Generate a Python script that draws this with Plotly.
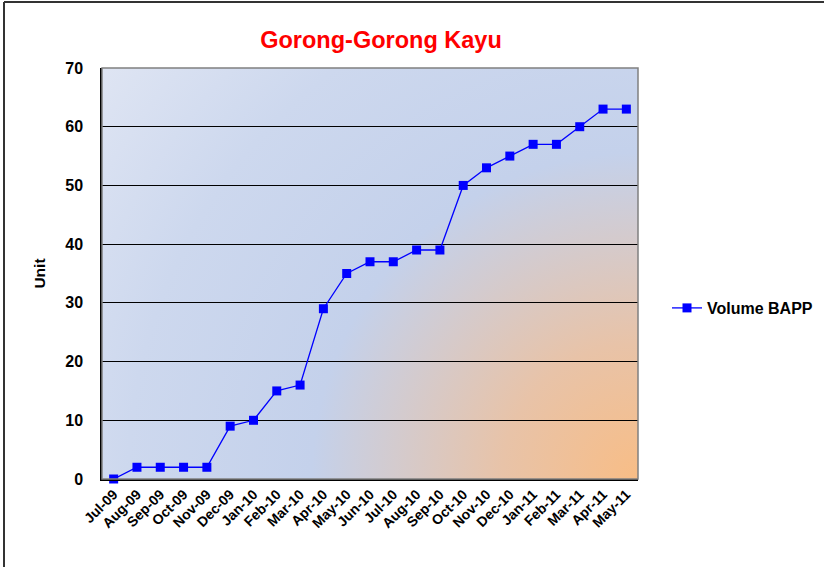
import base64
import plotly.graph_objects as go

# data
bulan = ["Jul-09", "Aug-09", "Sep-09", "Oct-09", "Nov-09", "Dec-09", "Jan-10", "Feb-10",
         "Mar-10", "Apr-10", "May-10", "Jun-10", "Jul-10", "Aug-10", "Sep-10", "Oct-10",
         "Nov-10", "Dec-10", "Jan-11", "Feb-11", "Mar-11", "Apr-11", "May-11"]
volume_bapp = [0, 2, 2, 2, 2, 9, 10, 15, 16, 29, 35, 37, 37, 39, 39, 50, 53, 55, 57, 57, 60, 63, 63]
y_ticks = [0, 10, 20, 30, 40, 50, 60, 70]

W, H = 824, 567
L, R, T, B = 102, 638, 68, 479   # plot area in px


def px_x(p):
    return (p - L) / (R - L)


def px_y(p):
    return (B - p) / (B - T)


# gradient background of the plot area (excel style fill)
svg = f"""<svg xmlns='http://www.w3.org/2000/svg' width='{R-L}' height='{B-T}' viewBox='0 0 {R-L} {B-T}' preserveAspectRatio='none'>
<defs><radialGradient id='g' gradientUnits='userSpaceOnUse' cx='{R-L}' cy='{B-T}' r='680'>
<stop offset='0' stop-color='#F8BD86'/>
<stop offset='0.2' stop-color='#E8C3A8'/>
<stop offset='0.48' stop-color='#C4D1EB'/>
<stop offset='0.75' stop-color='#CDD8EE'/>
<stop offset='1' stop-color='#DFE5F3'/>
</radialGradient></defs>
<rect x='0' y='0' width='{R-L}' height='{B-T}' fill='url(#g)'/>
</svg>"""
bg_src = "data:image/svg+xml;base64," + base64.b64encode(svg.encode()).decode()

fig = go.Figure()
fig.add_trace(go.Scatter(
    x=bulan, y=volume_bapp, name="Volume BAPP", mode="lines+markers",
    line=dict(color="#0000FF", width=1.3),
    marker=dict(symbol="square", size=9, color="#0000FF"),
    cliponaxis=False,
))

fig.add_layout_image(dict(
    source=bg_src, xref="paper", yref="paper", x=0, y=1, sizex=1, sizey=1,
    xanchor="left", yanchor="top", sizing="stretch", layer="below",
))

# plot border (gray) and outer chart border
fig.add_shape(type="rect", xref="paper", yref="paper", x0=0, x1=1, y0=0, y1=1,
              line=dict(color="#808080", width=1.5), layer="above")
fig.add_shape(type="line", xref="paper", yref="paper", x0=px_x(4), x1=px_x(4),
              y0=px_y(2), y1=px_y(570), line=dict(color="#333333", width=2))
fig.add_shape(type="line", xref="paper", yref="paper", x0=px_x(4), x1=px_x(830),
              y0=px_y(2), y1=px_y(2), line=dict(color="#333333", width=2))

fnt = "Liberation Sans, Arial, sans-serif"
fig.update_layout(
    width=W, height=H,
    margin=dict(l=L, r=W - R, t=T, b=H - B, autoexpand=False),
    paper_bgcolor="white", plot_bgcolor="rgba(0,0,0,0)",
    title=dict(text="<b>Gorong-Gorong Kayu</b>", x=px_x(381), xref="paper", xanchor="center",
               y=1 - 40 / H, yanchor="middle", font=dict(family=fnt, size=23.5, color="#FF0000")),
    xaxis=dict(type="category", range=[-0.5, len(bulan) - 0.5], tickangle=-45, showgrid=False,
               showline=True, linecolor="black", linewidth=1.5, ticks="",
               tickfont=dict(family=fnt, size=14, color="black", weight="bold")),
    yaxis=dict(range=[0, 70], tickvals=y_ticks, showgrid=True, gridcolor="black", gridwidth=1,
               showline=True, linecolor="black", linewidth=1.5, ticks="", zeroline=False,
               ticklabelstandoff=14,
               tickfont=dict(family=fnt, size=16, color="black", weight="bold"),
               title=dict(text="<b>Unit</b>", standoff=16, font=dict(family=fnt, size=15.5, color="black"))),
    showlegend=True,
    legend=dict(x=px_x(667), y=px_y(308), xanchor="left", yanchor="middle",
                bgcolor="rgba(0,0,0,0)",
                font=dict(family=fnt, size=16, color="black", weight="bold")),
)

fig.write_html("out.html", config={"displayModeBar": False},
               post_script="document.body.style.margin='0px';")
